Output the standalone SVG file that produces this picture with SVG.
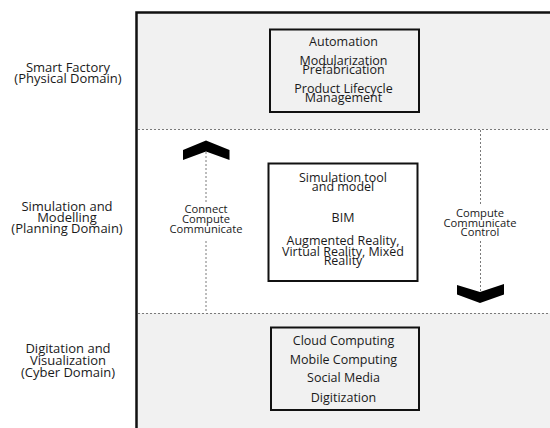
<svg xmlns="http://www.w3.org/2000/svg" width="550" height="428" viewBox="0 0 550 428">
  <style>
    .t { font-family: "Open Sans", "DejaVu Sans", sans-serif; fill: #1a1a1a; text-anchor: middle; }
    .dom { font-size: 13px; }
    .box { font-size: 12.5px; }
    .lbl { font-size: 11.2px; }
    .node { stroke: #111; stroke-width: 2; }
    .dots { stroke: #7a7a7a; stroke-width: 1; stroke-dasharray: 2 2; fill: none; }
    .chev { fill: #000; }
  </style>

  <rect width="550" height="428" fill="#ffffff"/>

  <!-- domain bands -->
  <rect x="137" y="13" width="420" height="116.5" fill="#f1f1f1"/>
  <rect x="137" y="313" width="420" height="120" fill="#f1f1f1"/>
  <line class="dots" x1="138" y1="129.5" x2="550" y2="129.5"/>
  <line class="dots" x1="138" y1="313.5" x2="550" y2="313.5"/>

  <!-- outer frame -->
  <rect x="136.5" y="12.5" width="430" height="430" fill="none" stroke="#111" stroke-width="2.5"/>

  <!-- domain labels -->
  <g id="label-physical">
    <text class="t dom" x="68" y="71.5">Smart Factory</text>
    <text class="t dom" x="68" y="83">(Physical Domain)</text>
  </g>
  <g id="label-planning">
    <text class="t dom" x="67" y="211">Simulation and</text>
    <text class="t dom" x="67" y="222.3">Modelling</text>
    <text class="t dom" x="67" y="233">(Planning Domain)</text>
  </g>
  <g id="label-cyber">
    <text class="t dom" x="68" y="353.3">Digitation and</text>
    <text class="t dom" x="68" y="364.7">Visualization</text>
    <text class="t dom" x="68" y="376.5">(Cyber Domain)</text>
  </g>

  <!-- nodes -->
  <g id="node-factory">
    <rect class="node" x="270" y="29.5" width="149" height="82.5" fill="#f1f1f1"/>
    <text class="t box" x="343.5" y="45.5">Automation</text>
    <text class="t box" x="343.5" y="64.5">Modularization</text>
    <text class="t box" x="343.5" y="73.5">Prefabrication</text>
    <text class="t box" x="343.5" y="92.5">Product Lifecycle</text>
    <text class="t box" x="343.5" y="101.5">Management</text>
  </g>

  <g id="node-simulation">
    <rect class="node" x="268.5" y="163.5" width="149" height="117.5" fill="#ffffff"/>
    <text class="t box" x="343" y="182.3">Simulation tool</text>
    <text class="t box" x="343" y="191.3">and model</text>
    <text class="t box" x="343" y="222.3">BIM</text>
    <text class="t box" x="343" y="245">Augmented Reality,</text>
    <text class="t box" x="343" y="256">Virtual Reality, Mixed</text>
    <text class="t box" x="343" y="265">Reality</text>
  </g>

  <g id="node-cyber">
    <rect class="node" x="271" y="327.5" width="148" height="82.5" fill="#f1f1f1"/>
    <text class="t box" x="343.5" y="345">Cloud Computing</text>
    <text class="t box" x="343.5" y="364.3">Mobile Computing</text>
    <text class="t box" x="343.5" y="382.3">Social Media</text>
    <text class="t box" x="343.5" y="401.7">Digitization</text>
  </g>

  <!-- connectors -->
  <g id="connectors">
    <g id="flow-up">
      <line class="dots" x1="206" y1="152" x2="206" y2="203"/>
      <line class="dots" x1="206" y1="241" x2="206" y2="313"/>
      <polygon class="chev" points="183,150 206,140.5 229.5,150 229.5,160 206,151.5 183,160"/>
      <text class="t lbl" x="206" y="213.3">Connect</text>
      <text class="t lbl" x="206" y="222.7">Compute</text>
      <text class="t lbl" x="206" y="232.7">Communicate</text>
    </g>
    <g id="flow-down">
      <line class="dots" x1="480.5" y1="130" x2="480.5" y2="204"/>
      <line class="dots" x1="480.5" y1="241" x2="480.5" y2="291"/>
      <polygon class="chev" points="457,285 480,292 504,284 504,294.5 480,303 457,294.5"/>
      <text class="t lbl" x="480" y="217">Compute</text>
      <text class="t lbl" x="480" y="226.7">Communicate</text>
      <text class="t lbl" x="480" y="235.7">Control</text>
    </g>
  </g>
</svg>
